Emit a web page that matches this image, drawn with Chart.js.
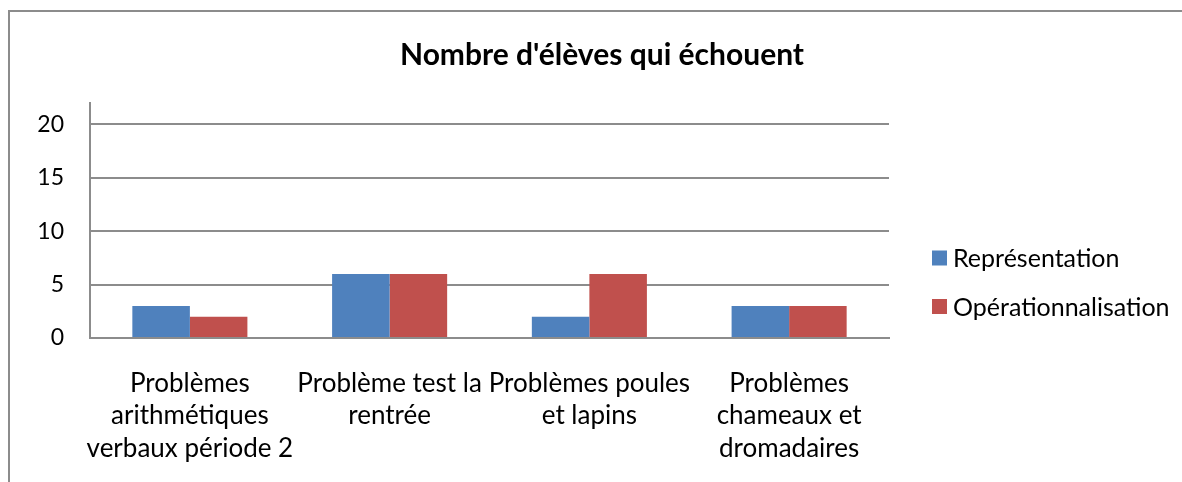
<!DOCTYPE html>
<html>
<head>
<meta charset="utf-8">
<script src="https://cdn.jsdelivr.net/npm/chart.js@4.4.1/dist/chart.umd.min.js"></script>
<style>
  html, body { margin: 0; padding: 0; background: #fff; }
  #wrap { position: relative; width: 1182px; height: 482px; overflow: hidden; }
  #frame { position: absolute; left: 8px; top: 10px; width: 1200px; height: 500px;
           border-top: 2px solid #8c8c8c; border-left: 2px solid #8c8c8c; box-sizing: border-box; }
  #c { position: absolute; left: 0; top: 0; }
</style>
</head>
<body>
<div id="wrap">
  <div id="frame"></div>
  <canvas id="c" width="1182" height="482"></canvas>
</div>
<script>
const categories = [
  ["Problèmes", "arithmétiques", "verbaux période 2"],
  ["Problème test la", "rentrée"],
  ["Problèmes poules", "et lapins"],
  ["Problèmes", "chameaux et", "dromadaires"]
];
const seriesNames = ["Représentation", "Opérationnalisation"];
const representation = [3, 6, 2, 3];
const operationnalisation = [2, 6, 6, 3];
const yTicks = [0, 5, 10, 15, 20];
const titleText = "Nombre d'élèves qui échouent";

const FONT = "Lato, 'Open Sans', sans-serif";
const colors = ["#4F81BD", "#C0504D"];

const legendPlugin = {
  id: 'customLegend',
  afterLayout(chart) {
    // centre the title over the whole chart frame, as in the reference
    const t = chart.titleBlock;
    if (t) { t.left = 10; t.right = 1194; t.width = t.right - t.left; }
  },
  afterDraw(chart) {
    const ctx = chart.ctx;
    ctx.save();
    ctx.font = "25px " + FONT;
    ctx.textBaseline = 'middle';
    ctx.textAlign = 'left';
    const ys = [258, 306.5];
    chart.data.datasets.forEach((ds, i) => {
      ctx.fillStyle = ds.backgroundColor;
      ctx.fillRect(932, ys[i] - 7.5, 15, 15);
      ctx.fillStyle = '#000';
      ctx.fillText(ds.label, 953, ys[i] + 1);
    });
    ctx.restore();
  }
};

new Chart(document.getElementById('c'), {
  type: 'bar',
  data: {
    labels: categories,
    datasets: [
      { label: seriesNames[0], data: representation, backgroundColor: colors[0] },
      { label: seriesNames[1], data: operationnalisation, backgroundColor: colors[1] }
    ]
  },
  options: {
    responsive: false,
    animation: false,
    events: [],
    layout: { padding: { left: 10, right: 293, top: 0, bottom: 0 } },
    datasets: { bar: { categoryPercentage: 0.576, barPercentage: 1.0 } },
    plugins: {
      legend: { display: false },
      tooltip: { enabled: false },
      title: {
        display: true,
        text: titleText,
        color: '#000',
        font: { family: FONT, size: 30, weight: 'bold', lineHeight: 1.2 },
        padding: { top: 37, bottom: 30 }
      }
    },
    scales: {
      x: {
        grid: { display: false, drawTicks: false },
        border: { display: true, color: '#8c8c8c', width: 2 },
        ticks: {
          color: '#000',
          font: { family: FONT, size: 26, lineHeight: 32.5 / 26 },
          padding: 29,
          maxRotation: 0,
          minRotation: 0,
          autoSkip: false
        },
        afterFit: s => { s.height = 144; }
      },
      y: {
        min: 0,
        max: 22,
        grid: { color: '#8c8c8c', lineWidth: 2, drawTicks: false },
        border: { display: true, color: '#8c8c8c', width: 2 },
        ticks: {
          color: '#000',
          stepSize: 5,
          padding: 26,
          font: { family: FONT, size: 23 }
        },
        afterBuildTicks: s => { s.ticks = yTicks.map(v => ({ value: v })); },
        afterFit: s => { s.width = 80; }
      }
    }
  },
  plugins: [legendPlugin]
});
</script>
</body>
</html>
